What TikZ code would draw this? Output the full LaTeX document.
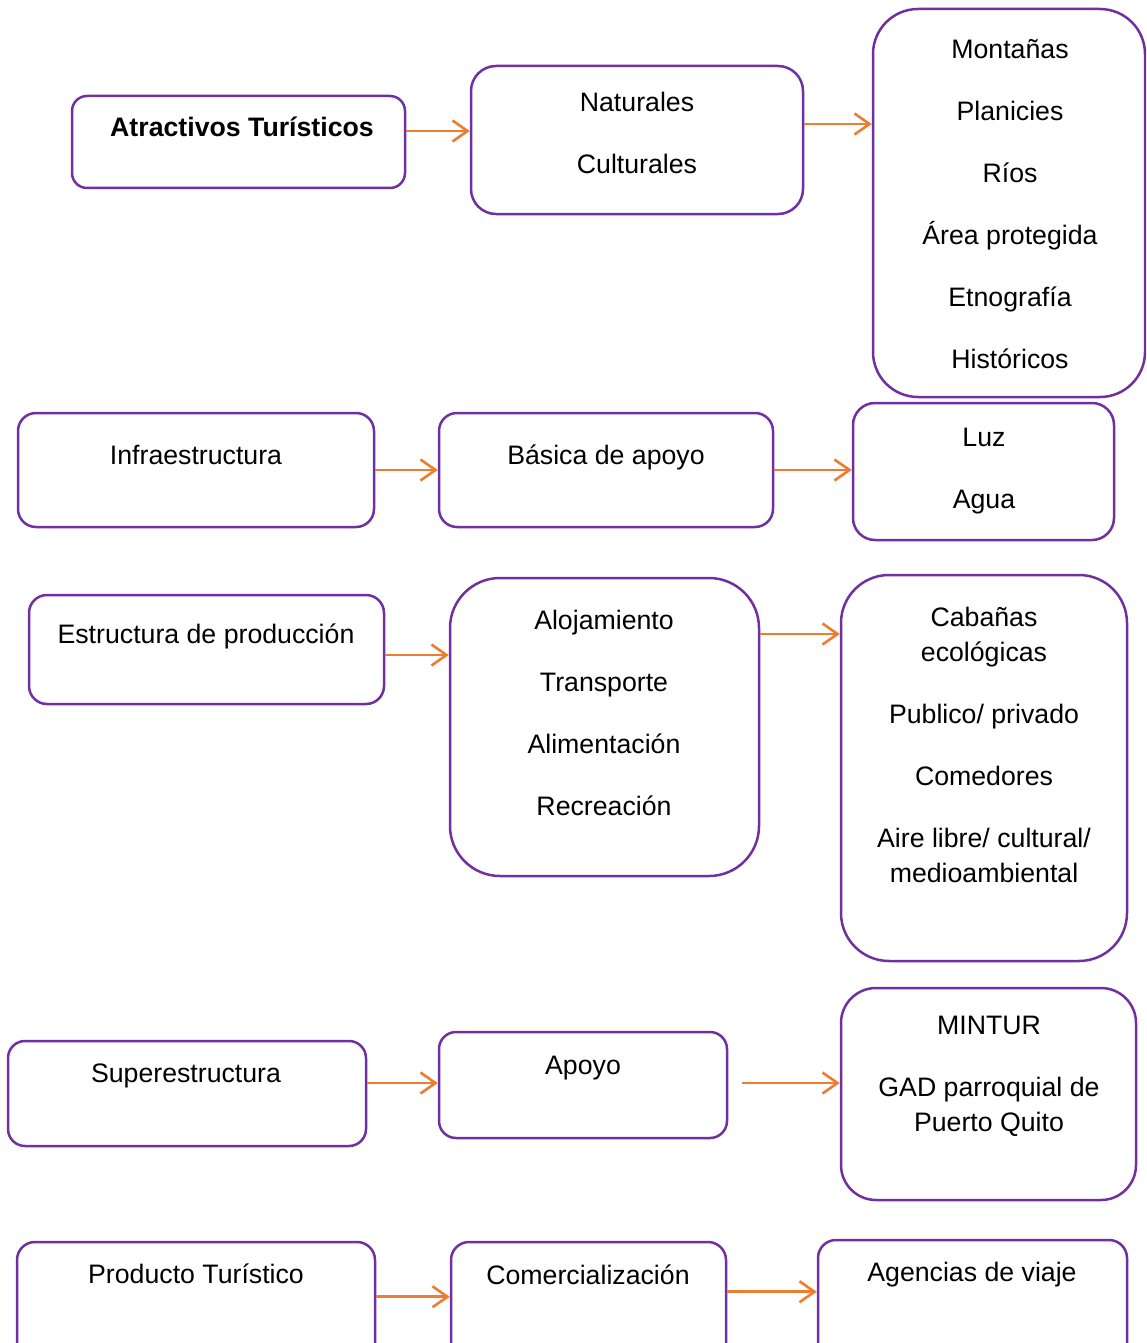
\documentclass[tikz,border=0pt]{standalone}
\usepackage{fontspec}
\setmainfont{Liberation Sans}
\usetikzlibrary{arrows.meta}
\definecolor{boxpurple}{HTML}{7030A0}
\definecolor{arroworange}{HTML}{ED7D31}
\tikzset{
  box/.style={draw=boxpurple, line width=2.5pt, rounded corners=#1, inner sep=0pt},
  txt/.style={align=center, anchor=north, inner sep=0pt, yshift=24.5pt, execute at begin node=\strut},
  flecha/.style={draw=arroworange, line width=2.6pt, -{Straight Barb[length=15pt,width=21pt]}}
}
\begin{document}
\begin{tikzpicture}[x=1pt, y=-1pt, font=\fontsize{26.7}{35}\selectfont]
	\clip (0,0) rectangle (1146,1343);
	\fill[white] (0,0) rectangle (1146,1343);
	% fila 1
	\node[box=15pt, minimum width=333pt, minimum height=92pt] (atr) at (238.5,142) {};
	\node[box=25pt, minimum width=332pt, minimum height=148pt] (nat) at (637,140) {};
	\node[box=45pt, minimum width=272pt, minimum height=388pt] (mon) at (1009,203) {};
	\node[txt] (atrt) at (242,136) {\textbf{Atractivos Turísticos}};
	\node[txt] (natt) at (637,116) {Naturales\\[27pt]Culturales};
	\node[txt] (mont) at (1010,64) {Montañas\\[27pt]Planicies\\[27pt]Ríos\\[27pt]Área protegida\\[27pt]Etnografía\\[27pt]Históricos};
	\draw[flecha] ([yshift=11pt]atr.east) -- ([yshift=11pt]atr.east -| nat.west);
	\draw[flecha] ([yshift=16pt]nat.east) -- ([yshift=16pt]nat.east -| mon.west);
	% fila 2
	\node[box=18pt, minimum width=356pt, minimum height=114pt] (inf) at (196,470) {};
	\node[box=18pt, minimum width=334pt, minimum height=114pt] (bas) at (606,470) {};
	\node[box=22pt, minimum width=261pt, minimum height=137pt] (luz) at (983.5,471.5) {};
	\node[txt] (inft) at (196,464) {Infraestructura};
	\node[txt] (bast) at (606,464) {Básica de apoyo};
	\node[txt] (luzt) at (984,452) {Luz\\[27pt]Agua};
	\draw[flecha] (inf.east) -- (inf.east -| bas.west);
	\draw[flecha] (bas.east) -- (bas.east -| luz.west);
	% fila 3
	\node[box=18pt, minimum width=355pt, minimum height=109pt] (est) at (206.5,649.5) {};
	\node[box=50pt, minimum width=309pt, minimum height=298pt] (alo) at (604.5,727) {};
	\node[box=48pt, minimum width=286pt, minimum height=386pt] (cab) at (984,768) {};
	\node[txt] (estt) at (206,643) {Estructura de producción};
	\node[txt] (alot) at (604,634) {Alojamiento\\[27pt]Transporte\\[27pt]Alimentación\\[27pt]Recreación};
	\node[txt] (cabt) at (984,631) {Cabañas\\ecológicas\\[27pt]Publico/ privado\\[27pt]Comedores\\[27pt]Aire libre/ cultural/\\medioambiental};
	\draw[flecha] ([yshift=-5.5pt]est.east) -- ([yshift=-5.5pt]est.east -| alo.west);
	\draw[flecha] ([yshift=93pt]alo.east) -- ([yshift=93pt]alo.east -| cab.west);
	% fila 4
	\node[box=17pt, minimum width=358pt, minimum height=105pt] (sup) at (187,1093.5) {};
	\node[box=17pt, minimum width=288pt, minimum height=106pt] (apo) at (583,1085) {};
	\node[box=35pt, minimum width=295pt, minimum height=212pt] (min) at (988.5,1094) {};
	\node[txt] (supt) at (186,1082) {Superestructura};
	\node[txt] (apot) at (583,1074) {Apoyo};
	\node[txt] (mint) at (989,1040) {MINTUR\\[27pt]GAD parroquial de\\Puerto Quito};
	\draw[flecha] ([yshift=10.5pt]sup.east) -- ([yshift=10.5pt]sup.east -| apo.west);
	\draw[flecha, shorten <=14pt] ([yshift=2pt]apo.east) -- ([yshift=2pt]apo.east -| min.west);
	% fila 5
	\node[box=18pt, minimum width=358pt, minimum height=158pt] (pro) at (196,1321) {};
	\node[box=18pt, minimum width=275pt, minimum height=158pt] (com) at (588.5,1321) {};
	\node[box=18pt, minimum width=309pt, minimum height=160pt] (age) at (972.5,1320) {};
	\node[txt] (prot) at (196,1283) {Producto Turístico};
	\node[txt] (comt) at (588,1284) {Comercialización};
	\node[txt] (aget) at (972,1281) {Agencias de viaje};
	\draw[flecha] ([yshift=-56pt]pro.north east) -- ([yshift=-56pt]pro.north east -| com.west);
	\draw[flecha] ([yshift=-51pt]com.north east) -- ([yshift=-51pt]com.north east -| age.west);
\end{tikzpicture}
\end{document}
